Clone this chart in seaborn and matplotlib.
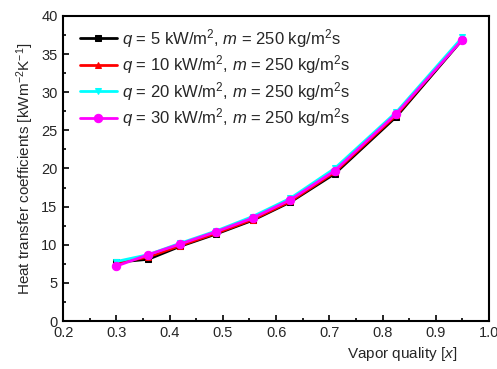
import numpy as np
import pandas as pd
import matplotlib
matplotlib.use("Agg")
import matplotlib.pyplot as plt
import seaborn as sns
from matplotlib.ticker import MultipleLocator, FormatStrFormatter

sns.set_style("ticks")
plt.rcParams['font.family'] = ['Liberation Sans', 'DejaVu Sans']
plt.rcParams['mathtext.fontset'] = 'custom'
plt.rcParams['mathtext.rm'] = 'Liberation Sans'
plt.rcParams['mathtext.it'] = 'Liberation Sans:italic'

vapor_quality = [0.30, 0.36, 0.42, 0.487, 0.556, 0.627, 0.71, 0.826, 0.95]
htc_q5 = [7.7, 8.1, 9.8, 11.4, 13.2, 15.6, 19.3, 26.8, 36.9]
htc_q10 = [7.6, 8.4, 9.9, 11.5, 13.3, 15.7, 19.5, 27.0, 37.0]
htc_q20 = [7.8, 8.7, 10.2, 11.8, 13.7, 16.1, 20.0, 27.4, 37.2]
htc_q30 = [7.2, 8.7, 10.1, 11.7, 13.5, 15.9, 19.7, 27.2, 36.9]

labels = [r"$q$ = 5 kW/m$^2$, $m$ = 250 kg/m$^2$s",
          r"$q$ = 10 kW/m$^2$, $m$ = 250 kg/m$^2$s",
          r"$q$ = 20 kW/m$^2$, $m$ = 250 kg/m$^2$s",
          r"$q$ = 30 kW/m$^2$, $m$ = 250 kg/m$^2$s"]
series = [htc_q5, htc_q10, htc_q20, htc_q30]
colors = ['black', 'red', 'cyan', 'magenta']
markers = ['s', '^', 'v', 'o']
msizes = [4, 5, 5, 6]

frames = []
for lab, vals in zip(labels, series):
    frames.append(pd.DataFrame({'x': vapor_quality, 'y': vals, 'series': lab}))
df = pd.concat(frames, ignore_index=True)

fig = plt.figure(figsize=(4.97, 3.69), dpi=100)
ax = fig.add_axes([0.127, 0.130, 0.857, 0.827])

for lab, c, m, ms in zip(labels, colors, markers, msizes):
    sub = df[df['series'] == lab]
    sns.lineplot(data=sub, x='x', y='y', ax=ax, color=c, marker=m,
                 markersize=ms, markeredgecolor=c, linewidth=2, label=lab)

ax.set_xlim(0.2, 1.0)
ax.set_ylim(0, 40)
ax.xaxis.set_major_locator(MultipleLocator(0.1))
ax.xaxis.set_minor_locator(MultipleLocator(0.05))
ax.xaxis.set_major_formatter(FormatStrFormatter('%.1f'))
ax.yaxis.set_major_locator(MultipleLocator(5))
ax.yaxis.set_minor_locator(MultipleLocator(2.5))
ax.tick_params(which='both', direction='in', top=False, right=False, labelsize=10.5, width=1.2, color='black')
ax.tick_params(which='major', length=4)
ax.tick_params(which='minor', length=2.5)
ax.tick_params(axis='y', pad=4)
for s in ax.spines.values():
    s.set_linewidth(1.5)
    s.set_color('black')
ax.set_xlabel(r"Vapor quality [$x$]", fontsize=11, ha='center')
ax.xaxis.set_label_coords(0.796, -0.078)
ax.set_ylabel(r"Heat transfer coefficients [kWm$^{-2}$K$^{-1}$]", fontsize=11)
ax.legend(loc='upper left', bbox_to_anchor=(0.014, 1.0), frameon=False, fontsize=12,
          handlelength=2.2, handletextpad=0.35, labelspacing=0.22, borderaxespad=0.25)

fig.savefig("out.png", dpi=100)
